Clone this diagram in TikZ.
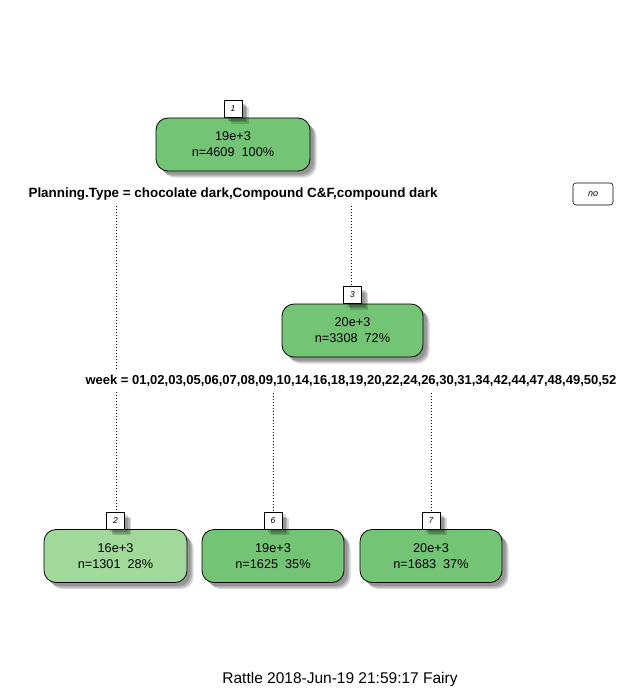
\documentclass[tikz,border=0pt]{standalone}
\usepackage{fontspec}
\setmainfont{Liberation Sans}
\definecolor{greenA}{HTML}{74C476}
\definecolor{greenB}{HTML}{A1D99B}
\tikzset{
  softshadow/.style={
    preaction={fill=black,opacity=.16,transform canvas={shift={(3.5pt,-3.5pt)}}},
    preaction={fill=black,opacity=.16,transform canvas={shift={(5pt,-5pt)}}},
    preaction={fill=black,opacity=.16,transform canvas={shift={(6.5pt,-6.5pt)}}}},
  treenode/.style={softshadow, draw=black, line width=0.8pt, rounded corners=12pt,
    fill=greenA, minimum height=53pt, align=center,
    font=\fontsize{12.7}{16}\selectfont, inner sep=0pt},
  numbox/.style={softshadow, draw=black, line width=0.6pt, fill=white,
    minimum width=18pt, minimum height=17pt, inner sep=0pt,
    font=\fontsize{8.5}{8.5}\selectfont\itshape, anchor=south},
  splitlabel/.style={font=\fontsize{13.4}{14}\selectfont\bfseries, anchor=base,
    inner xsep=2pt, inner ysep=4pt},
  link/.style={line width=0.7pt, dash pattern=on 0.7pt off 2.3pt},
}
\begin{document}
\begin{tikzpicture}[x=1pt,y=-1pt]
\useasboundingbox[fill=white] (0,0) rectangle (642,690);

% tree nodes
\node[treenode, minimum width=154pt] (b1) at (233,144.5) {19e+3\\n=4609\ \ 100\%};
\node[treenode, minimum width=141pt] (b3) at (352.5,330.5) {20e+3\\n=3308\ \ 72\%};
\node[treenode, fill=greenB, minimum width=143pt] (b2) at (115.5,556) {16e+3\\n=1301\ \ 28\%};
\node[treenode, minimum width=142pt] (b6) at (273,556) {19e+3\\n=1625\ \ 35\%};
\node[treenode, minimum width=142pt] (b7) at (431,556) {20e+3\\n=1683\ \ 37\%};

% node numbers
\node[numbox] (l1) at (b1.north) {1};
\node[numbox] (l3) at (b3.north) {3};
\node[numbox] (l2) at (b2.north) {2};
\node[numbox] (l6) at (b6.north) {6};
\node[numbox] (l7) at (b7.north) {7};

% branches
\coordinate (s1left) at (116,206);
\coordinate (s1right) at (351,206);
\coordinate (s3left) at (273,393);
\coordinate (s3right) at (431,393);
\draw[link] (s1left) -- (s1left |- l2.north);
\draw[link] (s1right) -- (s1right |- l3.north);
\draw[link] (s3left) -- (s3left |- l6.north);
\draw[link] (s3right) -- (s3right |- l7.north);

% split labels
\node[splitlabel] (split1) at (233,197) {Planning.Type = chocolate dark,Compound C\&F,compound dark};
\node[splitlabel, fill=white, font=\fontsize{13}{14}\selectfont\bfseries] (split3) at (351,384)
  {week = 01,02,03,05,06,07,08,09,10,14,16,18,19,20,22,24,26,30,31,34,42,44,47,48,49,50,52};

\node[draw, line width=0.6pt, rounded corners=3pt, minimum width=40pt, minimum height=22pt,
  inner sep=0pt, font=\fontsize{9}{9}\selectfont\itshape] (nolab) at (593,194) {no};

% caption
\node[font=\fontsize{15.5}{16}\selectfont, anchor=base, inner sep=0pt] (footer) at (340,683)
  {Rattle 2018-Jun-19 21:59:17 Fairy};
\end{tikzpicture}
\end{document}
